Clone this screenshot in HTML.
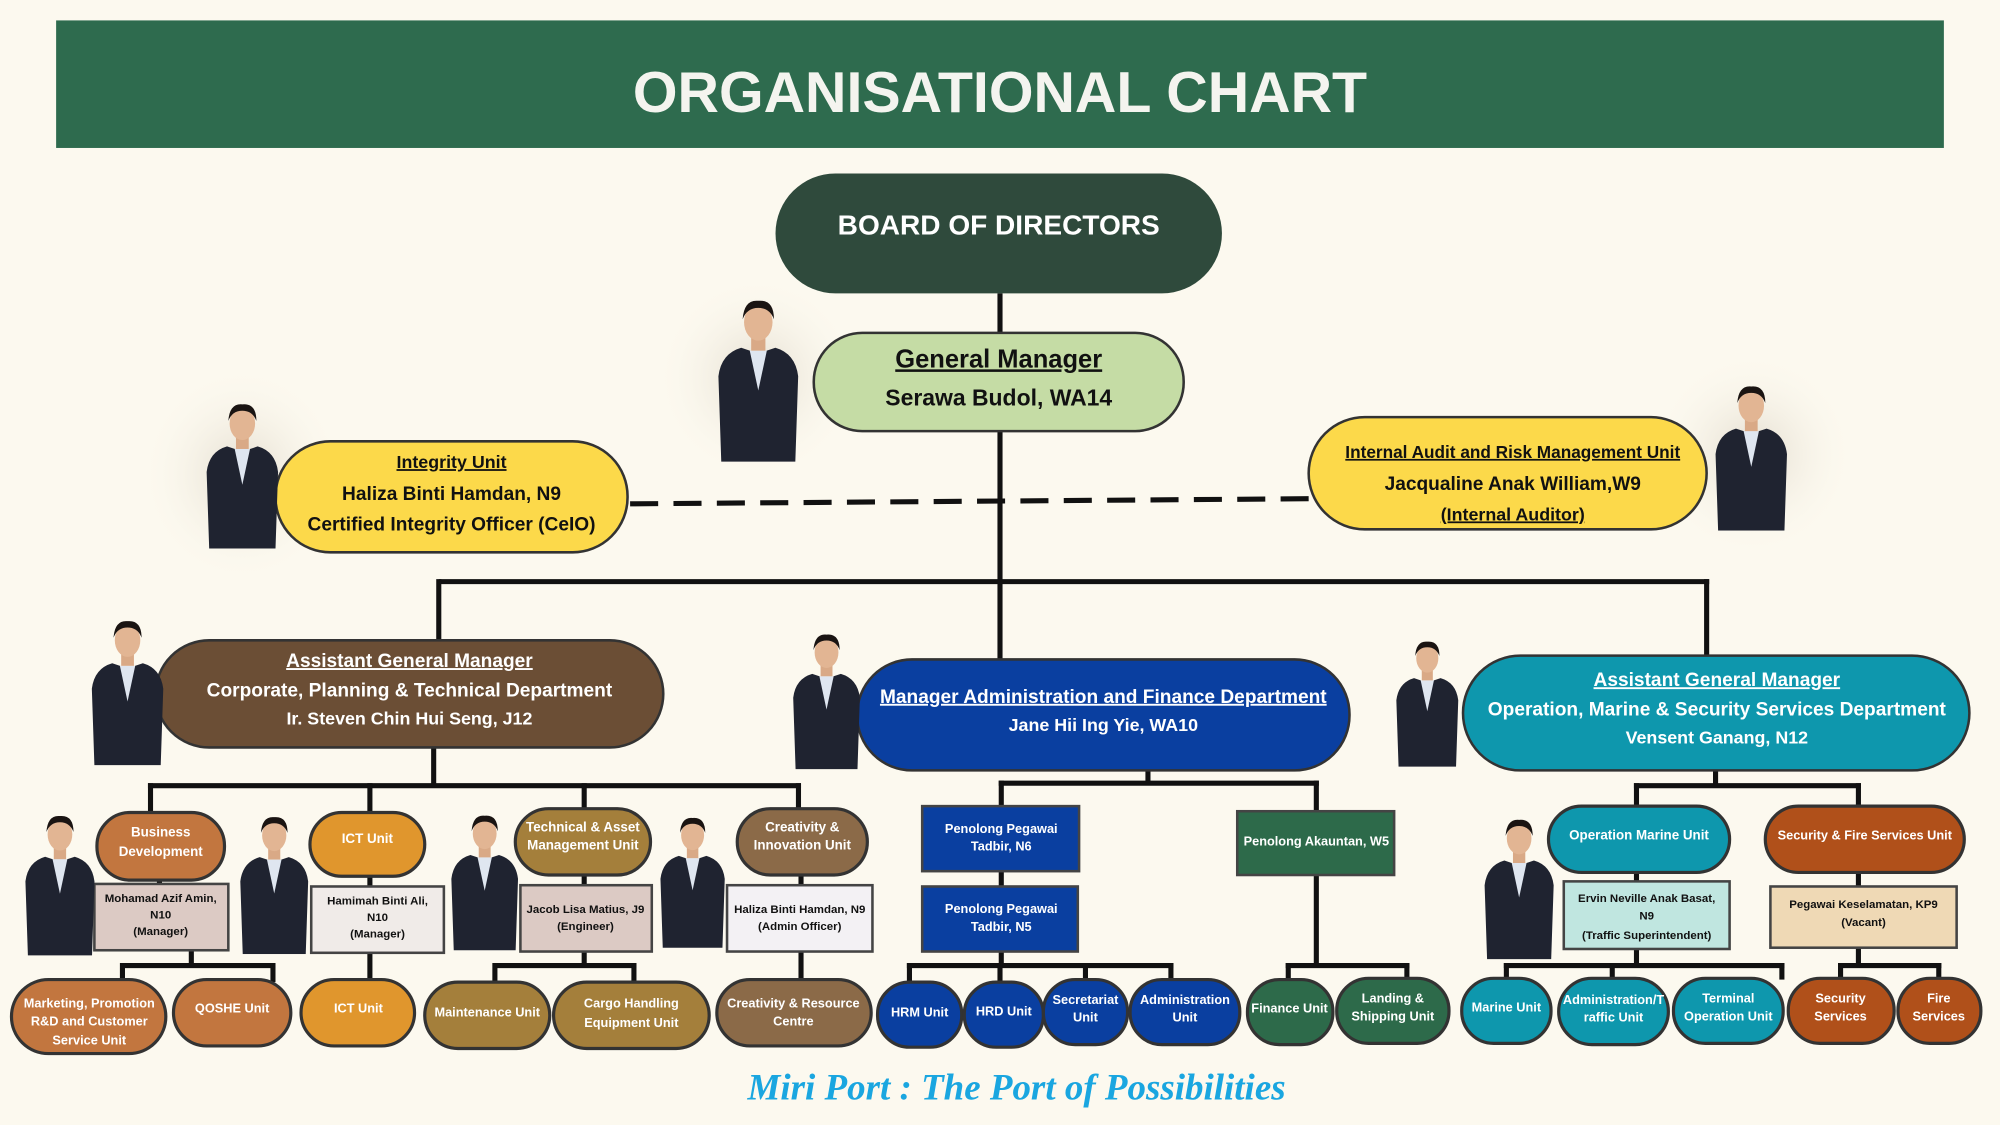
<!DOCTYPE html>
<html><head><meta charset="utf-8">
<style>
html,body{margin:0;padding:0;background:#fcf9ef;}
svg{display:block;}
text{font-family:"Liberation Sans Narrow","Liberation Sans",sans-serif;text-anchor:middle;}
.b{font-weight:bold;}
</style></head>
<body>
<svg width="2000" height="1125" viewBox="0 0 1568 882" xmlns="http://www.w3.org/2000/svg">
<defs>
<radialGradient id="halo"><stop offset="0" stop-color="#d8cfc0" stop-opacity="0.7"/><stop offset="1" stop-color="#fcf9ef" stop-opacity="0"/></radialGradient>
<symbol id="p" viewBox="0 0 60 120">
<path d="M4 120 L2 60 Q4 44 18 40 L30 44 L42 40 Q56 44 58 60 L56 120 Z" fill="#1f2330"/>
<path d="M24 42 L30 70 L36 42 Z" fill="#dfe6f0"/>
<rect x="25" y="30" width="10" height="12" fill="#d9a986"/>
<ellipse cx="30" cy="22" rx="10" ry="13" fill="#e2b593"/>
<path d="M19 20 Q20 6 30 7 Q41 6 41 20 Q38 12 30 12 Q22 12 19 20Z" fill="#1a1412"/>
</symbol>
</defs>
<rect width="1568" height="882" fill="#fcf9ef"/>
<rect x="44" y="16" width="1480" height="100" fill="#2e6b4e"/>
<text x="784" y="88" class="b" font-size="45" fill="#f4f4ef" style="font-family:'Liberation Sans',sans-serif">ORGANISATIONAL CHART</text>

<ellipse cx="594" cy="296" rx="80" ry="80" fill="url(#halo)"/>
<ellipse cx="190" cy="372" rx="80" ry="85" fill="url(#halo)"/>
<ellipse cx="1374" cy="356" rx="80" ry="80" fill="url(#halo)"/>

<g stroke="#111" stroke-width="4" fill="none">
<line x1="784" y1="230" x2="784" y2="520"/>
<line x1="344" y1="456" x2="1340" y2="456"/>
<line x1="344" y1="454" x2="344" y2="504"/>
<line x1="1338" y1="454" x2="1338" y2="516"/>
<line x1="340" y1="586" x2="340" y2="616"/>
<line x1="116" y1="616" x2="628" y2="616"/>
<line x1="118" y1="614" x2="118" y2="640"/><line x1="290" y1="614" x2="290" y2="640"/><line x1="458" y1="614" x2="458" y2="640"/><line x1="626" y1="614" x2="626" y2="640"/>
<line x1="125" y1="688" x2="125" y2="694"/><line x1="290" y1="686" x2="290" y2="696"/><line x1="458" y1="686" x2="458" y2="694"/><line x1="628" y1="686" x2="628" y2="696"/>
<line x1="150" y1="745" x2="150" y2="757"/><line x1="96" y1="757" x2="216" y2="757"/><line x1="96" y1="755" x2="96" y2="770"/><line x1="214" y1="755" x2="214" y2="770"/>
<line x1="290" y1="747" x2="290" y2="770"/>
<line x1="458" y1="745" x2="458" y2="757"/><line x1="388" y1="757" x2="499" y2="757"/><line x1="388" y1="755" x2="388" y2="772"/><line x1="497" y1="755" x2="497" y2="772"/>
<line x1="628" y1="746" x2="628" y2="770"/>
<line x1="900" y1="604" x2="900" y2="614"/>
<line x1="783" y1="614" x2="1034" y2="614"/>
<line x1="785" y1="612" x2="785" y2="757"/>
<line x1="1032" y1="612" x2="1032" y2="757"/>
<line x1="711" y1="757" x2="920" y2="757"/>
<line x1="713" y1="755" x2="713" y2="772"/><line x1="784" y1="755" x2="784" y2="772"/><line x1="851" y1="755" x2="851" y2="772"/><line x1="918" y1="755" x2="918" y2="772"/>
<line x1="1008" y1="757" x2="1105" y2="757"/>
<line x1="1010" y1="755" x2="1010" y2="770"/><line x1="1103" y1="755" x2="1103" y2="770"/>
<line x1="1345" y1="604" x2="1345" y2="616"/>
<line x1="1281" y1="616" x2="1459" y2="616"/>
<line x1="1283" y1="614" x2="1283" y2="634"/><line x1="1457" y1="614" x2="1457" y2="634"/>
<line x1="1283" y1="683" x2="1283" y2="692"/><line x1="1457" y1="683" x2="1457" y2="696"/>
<line x1="1283" y1="744" x2="1283" y2="757"/>
<line x1="1179" y1="757" x2="1399" y2="757"/>
<line x1="1181" y1="755" x2="1181" y2="768"/><line x1="1264" y1="755" x2="1264" y2="768"/><line x1="1397" y1="755" x2="1397" y2="768"/>
<line x1="1457" y1="743" x2="1457" y2="757"/>
<line x1="1441" y1="757" x2="1522" y2="757"/>
<line x1="1443" y1="755" x2="1443" y2="768"/><line x1="1520" y1="755" x2="1520" y2="768"/>
</g>
<path d="M494 395 L1026 391" stroke="#111" stroke-width="4" stroke-dasharray="22,12" fill="none"/>

<rect x="608" y="136" width="350" height="94" rx="47" fill="#2f4a3c"/>
<text x="783" y="184" class="b" font-size="22" fill="#fff" style="font-family:'Liberation Sans',sans-serif">BOARD OF DIRECTORS</text>

<rect x="638" y="261" width="290" height="77" rx="38" fill="#c5dca5" stroke="#333" stroke-width="2"/>
<text x="783" y="288" class="b" font-size="20" fill="#111" text-decoration="underline">General Manager</text>
<text x="783" y="318" class="b" font-size="18" fill="#111">Serawa Budol, WA14</text>

<rect x="216" y="346" width="276" height="87" rx="43" fill="#fcd94a" stroke="#333" stroke-width="2"/>
<text x="354" y="367" class="b" font-size="14" fill="#111" text-decoration="underline">Integrity Unit</text>
<text x="354" y="392" class="b" font-size="15" fill="#111">Haliza Binti Hamdan, N9</text>
<text x="354" y="416" class="b" font-size="15" fill="#111">Certified Integrity Officer (CeIO)</text>

<rect x="1026" y="327" width="312" height="88" rx="44" fill="#fcd94a" stroke="#333" stroke-width="2"/>
<text x="1186" y="359" class="b" font-size="13.5" fill="#111" text-decoration="underline">Internal Audit and Risk Management Unit</text>
<text x="1186" y="384" class="b" font-size="15" fill="#111">Jacqualine Anak William,W9</text>
<text x="1186" y="408" class="b" font-size="14" fill="#111" text-decoration="underline">(Internal Auditor)</text>

<rect x="122" y="502" width="398" height="84" rx="42" fill="#6b4e35" stroke="#333" stroke-width="2"/>
<text x="321" y="523" class="b" font-size="15" fill="#fff" text-decoration="underline">Assistant General Manager</text>
<text x="321" y="546" class="b" font-size="15" fill="#fff">Corporate, Planning &amp; Technical Department</text>
<text x="321" y="568" class="b" font-size="14" fill="#fff">Ir. Steven Chin Hui Seng, J12</text>

<rect x="672" y="517" width="386" height="87" rx="43" fill="#0a3fa0" stroke="#333" stroke-width="2"/>
<text x="865" y="551" class="b" font-size="15" fill="#fff" text-decoration="underline">Manager Administration and Finance Department</text>
<text x="865" y="573" class="b" font-size="14" fill="#fff">Jane Hii Ing Yie, WA10</text>

<rect x="1147" y="514" width="397" height="90" rx="45" fill="#0e97ad" stroke="#333" stroke-width="2"/>
<text x="1346" y="538" class="b" font-size="15" fill="#fff" text-decoration="underline">Assistant General Manager</text>
<text x="1346" y="561" class="b" font-size="15" fill="#fff">Operation, Marine &amp; Security Services  Department</text>
<text x="1346" y="583" class="b" font-size="14" fill="#fff">Vensent Ganang, N12</text>

<g stroke="#333" stroke-width="2.5">
<rect x="76" y="637" width="100" height="53" rx="26" fill="#c2763f"/>
<rect x="243" y="637" width="90" height="50" rx="25" fill="#e0962d"/>
<rect x="404" y="634" width="106" height="52" rx="26" fill="#a47f3b"/>
<rect x="578" y="634" width="102" height="52" rx="26" fill="#8b6a48"/>
<rect x="1214" y="632" width="142" height="52" rx="26" fill="#0e97ad"/>
<rect x="1384" y="632" width="156" height="52" rx="26" fill="#b0501a"/>
</g>
<g fill="#fff" font-size="10.5" class="b">
<text x="126" y="656">Business</text><text x="126" y="671">Development</text>
<text x="288" y="661">ICT Unit</text>
<text x="457" y="652">Technical &amp; Asset</text><text x="457" y="666">Management Unit</text>
<text x="629" y="652">Creativity &amp;</text><text x="629" y="666">Innovation Unit</text>
<text x="1285" y="658">Operation Marine Unit</text>
<text x="1462" y="658" font-size="10">Security &amp; Fire Services Unit</text>
</g>

<g stroke="#444" stroke-width="2">
<rect x="74" y="693" width="105" height="52" fill="#dccac4"/>
<rect x="244" y="695" width="104" height="52" fill="#f0ebe8"/>
<rect x="408" y="694" width="103" height="52" fill="#dccac4"/>
<rect x="570" y="694" width="114" height="52" fill="#f3f1f4"/>
<rect x="723" y="632" width="123" height="51" fill="#0a3fa0"/>
<rect x="723" y="695" width="122" height="51" fill="#0a3fa0"/>
<rect x="970" y="636" width="123" height="50" fill="#2d6a4a"/>
<rect x="1226" y="691" width="130" height="53" fill="#c0e6e0"/>
<rect x="1388" y="695" width="146" height="48" fill="#efd9b5"/>
</g>
<g font-size="9" class="b" fill="#111">
<text x="126" y="707">Mohamad Azif Amin,</text><text x="126" y="720">N10</text><text x="126" y="733">(Manager)</text>
<text x="296" y="709">Hamimah Binti Ali,</text><text x="296" y="722">N10</text><text x="296" y="735">(Manager)</text>
<text x="459" y="716">Jacob Lisa Matius, J9</text><text x="459" y="729">(Engineer)</text>
<text x="627" y="716">Haliza Binti Hamdan, N9</text><text x="627" y="729">(Admin Officer)</text>
<text x="1291" y="707">Ervin Neville Anak Basat,</text><text x="1291" y="721">N9</text><text x="1291" y="736">(Traffic Superintendent)</text>
<text x="1461" y="712">Pegawai Keselamatan, KP9</text><text x="1461" y="726">(Vacant)</text>
</g>
<g font-size="10" class="b" fill="#fff">
<text x="785" y="653">Penolong Pegawai</text><text x="785" y="667">Tadbir, N6</text>
<text x="785" y="716">Penolong Pegawai</text><text x="785" y="730">Tadbir, N5</text>
<text x="1032" y="663">Penolong Akauntan, W5</text>
</g>

<g stroke="#333" stroke-width="2.5">
<rect x="9" y="768" width="121" height="58" rx="29" fill="#c2763f"/>
<rect x="136" y="768" width="92" height="52" rx="26" fill="#c2763f"/>
<rect x="236" y="768" width="89" height="52" rx="26" fill="#e0962d"/>
<rect x="333" y="770" width="98" height="52" rx="26" fill="#a47f3b"/>
<rect x="434" y="770" width="122" height="52" rx="26" fill="#a47f3b"/>
<rect x="562" y="768" width="121" height="52" rx="26" fill="#8b6a48"/>
<rect x="688" y="770" width="66" height="51" rx="25" fill="#0a3fa0"/>
<rect x="756" y="770" width="62" height="51" rx="25" fill="#0a3fa0"/>
<rect x="818" y="768" width="66" height="51" rx="25" fill="#0a3fa0"/>
<rect x="886" y="768" width="86" height="51" rx="25" fill="#0a3fa0"/>
<rect x="978" y="768" width="67" height="51" rx="25" fill="#2d6a4a"/>
<rect x="1048" y="767" width="88" height="51" rx="25" fill="#2d6a4a"/>
<rect x="1146" y="767" width="70" height="51" rx="25" fill="#0e97ad"/>
<rect x="1222" y="767" width="86" height="52" rx="26" fill="#0e97ad"/>
<rect x="1312" y="767" width="86" height="51" rx="25" fill="#0e97ad"/>
<rect x="1402" y="767" width="83" height="51" rx="25" fill="#b0501a"/>
<rect x="1488" y="767" width="65" height="51" rx="25" fill="#b0501a"/>
</g>
<g font-size="10" class="b" fill="#fff">
<text x="70" y="790">Marketing, Promotion</text><text x="70" y="804">R&amp;D and Customer</text><text x="70" y="819">Service Unit</text>
<text x="182" y="794">QOSHE Unit</text>
<text x="281" y="794">ICT Unit</text>
<text x="382" y="797">Maintenance Unit</text>
<text x="495" y="790">Cargo Handling</text><text x="495" y="805">Equipment Unit</text>
<text x="622" y="790">Creativity &amp; Resource</text><text x="622" y="804">Centre</text>
<text x="721" y="797">HRM Unit</text>
<text x="787" y="796">HRD Unit</text>
<text x="851" y="787">Secretariat</text><text x="851" y="801">Unit</text>
<text x="929" y="787">Administration</text><text x="929" y="801">Unit</text>
<text x="1011" y="794">Finance Unit</text>
<text x="1092" y="786">Landing &amp;</text><text x="1092" y="800">Shipping Unit</text>
<text x="1181" y="793">Marine Unit</text>
<text x="1265" y="787">Administration/T</text><text x="1265" y="801">raffic Unit</text>
<text x="1355" y="786">Terminal</text><text x="1355" y="800">Operation Unit</text>
<text x="1443" y="786">Security</text><text x="1443" y="800">Services</text>
<text x="1520" y="786">Fire</text><text x="1520" y="800">Services</text>
</g>

<use href="#p" x="553" y="228" width="83" height="134"/>
<use href="#p" x="160" y="303" width="60" height="134"/>
<use href="#p" x="1340" y="296" width="66" height="120"/>
<use href="#p" x="68" y="480" width="64" height="120"/>
<use href="#p" x="620" y="490" width="56" height="114"/>
<use href="#p" x="1093" y="487" width="52" height="124"/>
<use href="#p" x="18" y="630" width="58" height="122"/>
<use href="#p" x="186" y="634" width="58" height="114"/>
<use href="#p" x="352" y="630" width="56" height="118"/>
<use href="#p" x="516" y="630" width="54" height="118"/>
<use href="#p" x="1162" y="630" width="58" height="128"/>

<text x="797" y="862" font-size="29" class="b" font-style="italic" fill="#1aa6e0" style="font-family:'Liberation Serif',serif">Miri Port : The Port of Possibilities</text>
</svg>
</body></html>
